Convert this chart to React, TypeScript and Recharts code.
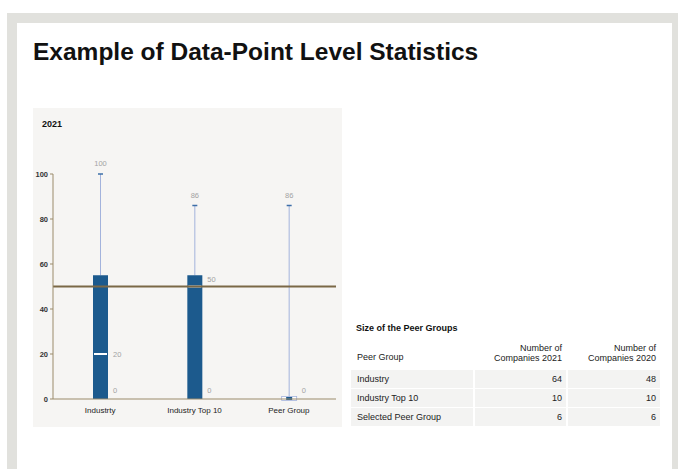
import React from 'react';
import { ComposedChart, Bar, XAxis, YAxis, ReferenceLine } from 'recharts';

const categories = ['Industrty', 'Industry Top 10', 'Peer Group'];
const minValues = [0, 0, 0];
const q1Values = [0, 0, 0];
const medianValues = [20, 50, 0];
const q3Values = [55, 55, 0];
const maxValues = [100, 86, 86];
const yTicks = [0, 20, 40, 60, 80, 100];
const benchmark = 50;

const peerGroups = ['Industry', 'Industry Top 10', 'Selected Peer Group'];
const companies2021 = [64, 10, 6];
const companies2020 = [48, 10, 6];

const boxData = categories.map((name, i) => ({
  name,
  min: minValues[i],
  q1: q1Values[i],
  median: medianValues[i],
  q3: q3Values[i],
  max: maxValues[i],
}));

const FONT = '"Liberation Sans", Arial, sans-serif';
const BOX_BLUE = '#1c5a8d';
const WHISKER = '#a3b3dc';
const LABEL = '#a3a3a3';

// draws whisker, box, median and value labels for one category
const BoxShape = (props: any) => {
  const { x, y, width, height, payload } = props;
  if (!payload) return null;
  const { min, q1, median, q3, max } = payload;
  const top = Math.min(y, y + height);
  const bottom = Math.max(y, y + height);
  const px = (v: number) => bottom - ((bottom - top) * (v - min)) / (max - min || 1);
  const cx = x + width / 2;
  const hasBox = q3 > q1;
  // median label moves above the benchmark line when they overlap
  const medianDy = median === benchmark ? -5 : 2.5;
  return (
    <g>
      <line x1={cx} x2={cx} y1={px(max)} y2={px(q3)} stroke={WHISKER} strokeWidth={1} />
      {q1 > min && <line x1={cx} x2={cx} y1={px(q1)} y2={px(min)} stroke={WHISKER} strokeWidth={1} />}
      <line x1={cx - 2.5} x2={cx + 2.5} y1={px(max)} y2={px(max)} stroke="#3d6fa8" strokeWidth={1.5} />
      {hasBox ? (
        <>
          <rect x={x} y={px(q3)} width={width} height={px(q1) - px(q3)} fill={BOX_BLUE} />
          <rect x={x + 1} y={px(median) - 1} width={width - 2} height={2} fill="#ffffff" />
        </>
      ) : (
        <>
          <rect x={x} y={px(q1) - 2.5} width={width} height={4} fill="#ffffff" stroke={WHISKER} strokeWidth={0.8} />
          <rect x={cx - 3} y={px(q1) - 2} width={6} height={3} fill={BOX_BLUE} />
        </>
      )}
      <text x={cx} y={px(max) - 8} textAnchor="middle" fontSize={7.5} fill={LABEL} fontFamily={FONT}>
        {max}
      </text>
      {median > min && (
        <text x={x + width + 5} y={px(median) + medianDy} fontSize={7.5} fill={LABEL} fontFamily={FONT}>
          {median}
        </text>
      )}
      <text x={x + width + 5} y={px(min) - 6} fontSize={7.5} fill={LABEL} fontFamily={FONT}>
        {min}
      </text>
    </g>
  );
};

export default function App() {
  return (
    <div style={{ position: 'fixed', left: 0, top: 0, width: 678, height: 469, background: '#ffffff', fontFamily: FONT, overflow: 'hidden' }}>
      {/* slide frame */}
      <div style={{ position: 'absolute', left: 7, top: 13, width: 671, height: 456, background: '#e1e1dd' }} />
      <div style={{ position: 'absolute', left: 17, top: 23, width: 655, height: 446, background: '#ffffff' }} />

      <div style={{ position: 'absolute', left: 33, top: 38, fontSize: 24.5, fontWeight: 'bold', color: '#111', whiteSpace: 'nowrap' }}>
        Example of Data-Point Level Statistics
      </div>

      {/* chart panel */}
      <div style={{ position: 'absolute', left: 33, top: 108, width: 309, height: 319, background: '#f6f5f3' }}>
        <div style={{ position: 'absolute', left: 9, top: 11, fontSize: 9, fontWeight: 'bold', color: '#111' }}>2021</div>
        <ComposedChart width={309} height={319} data={boxData} margin={{ top: 66, right: 6, bottom: 0, left: 0 }}>
          <XAxis
            dataKey="name"
            height={28}
            axisLine={{ stroke: '#9b8b6b' }}
            tickLine={false}
            tick={{ fontSize: 8, fill: '#222', fontFamily: FONT }}
          />
          <YAxis
            width={20}
            domain={[0, 100]}
            ticks={yTicks}
            axisLine={{ stroke: '#9b8b6b' }}
            tickLine={{ stroke: '#9b8b6b' }}
            tickSize={3}
            tick={{ fontSize: 7.5, fill: '#333', fontWeight: 'bold', fontFamily: FONT }}
          />
          <Bar
            dataKey={(d: any) => [d.min, d.max]}
            barSize={15}
            shape={<BoxShape />}
            isAnimationActive={false}
          />
          <ReferenceLine y={benchmark} stroke="#7a6846" strokeWidth={2} />
        </ComposedChart>
      </div>

      {/* peer group table */}
      <div style={{ position: 'absolute', left: 356, top: 323, fontSize: 9, fontWeight: 'bold', color: '#111' }}>
        Size of the Peer Groups
      </div>
      <div style={{ position: 'absolute', left: 351, top: 343, display: 'grid', gridTemplateColumns: '122px 91px 92px', columnGap: 2, rowGap: 1, fontSize: 9, color: '#222' }}>
        <div style={{ height: 24, display: 'flex', alignItems: 'center', paddingLeft: 6, paddingTop: 2 }}>Peer Group</div>
        <div style={{ height: 24, textAlign: 'right', paddingRight: 4, lineHeight: '9.5px', paddingTop: 1 }}>
          Number of<br />Companies 2021
        </div>
        <div style={{ height: 24, textAlign: 'right', paddingRight: 4, lineHeight: '9.5px', paddingTop: 1 }}>
          Number of<br />Companies 2020
        </div>
        {peerGroups.map((g, i) => (
          <React.Fragment key={g}>
            <div style={{ height: 18, lineHeight: '18px', background: '#f3f3f2', paddingLeft: 6 }}>{g}</div>
            <div style={{ height: 18, lineHeight: '18px', background: '#f3f3f2', textAlign: 'right', paddingRight: 4 }}>{companies2021[i]}</div>
            <div style={{ height: 18, lineHeight: '18px', background: '#f3f3f2', textAlign: 'right', paddingRight: 4 }}>{companies2020[i]}</div>
          </React.Fragment>
        ))}
      </div>
    </div>
  );
}
